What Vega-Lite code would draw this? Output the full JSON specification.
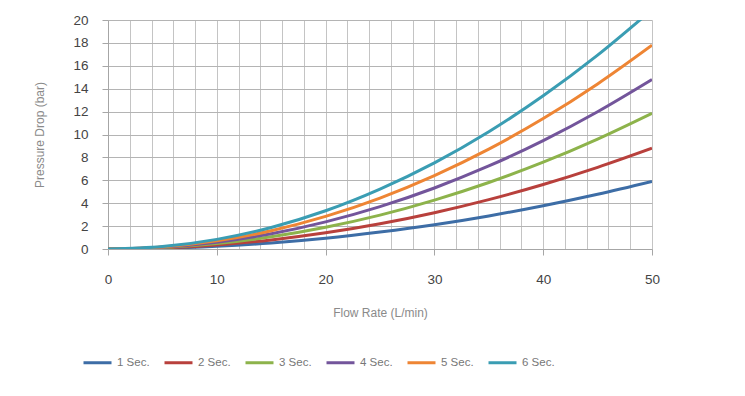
{
  "$schema": "https://vega.github.io/schema/vega-lite/v6.json",
  "width": 544,
  "height": 229,
  "autosize": {"type": "none"},
  "padding": {"left": 108, "top": 20, "right": 93, "bottom": 147},
  "background": "white",
  "config": {
    "font": "Liberation Sans",
    "view": {"stroke": null}
  },
  "data": {
    "values": [
      {"flow": 0, "s": "1 Sec.", "p": 0}, {"flow": 5, "s": "1 Sec.", "p": 0.06}, {"flow": 10, "s": "1 Sec.", "p": 0.24}, {"flow": 15, "s": "1 Sec.", "p": 0.53}, {"flow": 20, "s": "1 Sec.", "p": 0.94}, {"flow": 25, "s": "1 Sec.", "p": 1.48}, {"flow": 30, "s": "1 Sec.", "p": 2.12}, {"flow": 35, "s": "1 Sec.", "p": 2.89}, {"flow": 40, "s": "1 Sec.", "p": 3.78}, {"flow": 45, "s": "1 Sec.", "p": 4.78}, {"flow": 50, "s": "1 Sec.", "p": 5.9},
      {"flow": 0, "s": "2 Sec.", "p": 0}, {"flow": 5, "s": "2 Sec.", "p": 0.09}, {"flow": 10, "s": "2 Sec.", "p": 0.35}, {"flow": 15, "s": "2 Sec.", "p": 0.79}, {"flow": 20, "s": "2 Sec.", "p": 1.41}, {"flow": 25, "s": "2 Sec.", "p": 2.2}, {"flow": 30, "s": "2 Sec.", "p": 3.17}, {"flow": 35, "s": "2 Sec.", "p": 4.31}, {"flow": 40, "s": "2 Sec.", "p": 5.63}, {"flow": 45, "s": "2 Sec.", "p": 7.13}, {"flow": 50, "s": "2 Sec.", "p": 8.8},
      {"flow": 0, "s": "3 Sec.", "p": 0}, {"flow": 5, "s": "3 Sec.", "p": 0.12}, {"flow": 10, "s": "3 Sec.", "p": 0.47}, {"flow": 15, "s": "3 Sec.", "p": 1.07}, {"flow": 20, "s": "3 Sec.", "p": 1.9}, {"flow": 25, "s": "3 Sec.", "p": 2.96}, {"flow": 30, "s": "3 Sec.", "p": 4.27}, {"flow": 35, "s": "3 Sec.", "p": 5.81}, {"flow": 40, "s": "3 Sec.", "p": 7.58}, {"flow": 45, "s": "3 Sec.", "p": 9.6}, {"flow": 50, "s": "3 Sec.", "p": 11.85},
      {"flow": 0, "s": "4 Sec.", "p": 0}, {"flow": 5, "s": "4 Sec.", "p": 0.15}, {"flow": 10, "s": "4 Sec.", "p": 0.59}, {"flow": 15, "s": "4 Sec.", "p": 1.33}, {"flow": 20, "s": "4 Sec.", "p": 2.37}, {"flow": 25, "s": "4 Sec.", "p": 3.7}, {"flow": 30, "s": "4 Sec.", "p": 5.33}, {"flow": 35, "s": "4 Sec.", "p": 7.25}, {"flow": 40, "s": "4 Sec.", "p": 9.47}, {"flow": 45, "s": "4 Sec.", "p": 11.99}, {"flow": 50, "s": "4 Sec.", "p": 14.8},
      {"flow": 0, "s": "5 Sec.", "p": 0}, {"flow": 5, "s": "5 Sec.", "p": 0.18}, {"flow": 10, "s": "5 Sec.", "p": 0.71}, {"flow": 15, "s": "5 Sec.", "p": 1.6}, {"flow": 20, "s": "5 Sec.", "p": 2.85}, {"flow": 25, "s": "5 Sec.", "p": 4.45}, {"flow": 30, "s": "5 Sec.", "p": 6.41}, {"flow": 35, "s": "5 Sec.", "p": 8.72}, {"flow": 40, "s": "5 Sec.", "p": 11.39}, {"flow": 45, "s": "5 Sec.", "p": 14.42}, {"flow": 50, "s": "5 Sec.", "p": 17.8},
      {"flow": 0, "s": "6 Sec.", "p": 0}, {"flow": 5, "s": "6 Sec.", "p": 0.21}, {"flow": 10, "s": "6 Sec.", "p": 0.84}, {"flow": 15, "s": "6 Sec.", "p": 1.88}, {"flow": 20, "s": "6 Sec.", "p": 3.34}, {"flow": 25, "s": "6 Sec.", "p": 5.23}, {"flow": 30, "s": "6 Sec.", "p": 7.52}, {"flow": 35, "s": "6 Sec.", "p": 10.24}, {"flow": 40, "s": "6 Sec.", "p": 13.38}, {"flow": 45, "s": "6 Sec.", "p": 16.93}, {"flow": 50, "s": "6 Sec.", "p": 20.9}
    ]
  },
  "mark": {"type": "line", "strokeWidth": 3, "interpolate": "monotone", "clip": true},
  "encoding": {
    "x": {
      "field": "flow", "type": "quantitative",
      "scale": {"domain": [0, 50], "nice": false},
      "axis": {
        "title": "Flow Rate (L/min)",
        "values": [0,2,4,6,8,10,12,14,16,18,20,22,24,26,28,30,32,34,36,38,40,42,44,46,48,50],
        "labelExpr": "datum.value % 10 === 0 ? datum.label : ''",
        "labelFlush": false,
        "tickOpacity": {"expr": "datum.value % 10 === 0 ? 1 : 0"},
        "tickSize": 6, "tickColor": "#a6a6a6",
        "labelPadding": 17, "labelFontSize": 13.5, "labelColor": "#444444",
        "domainColor": "#a6a6a6",
        "grid": true, "gridColor": "#c4c4c4", "gridWidth": 1,
        "titleFontSize": 12, "titleFontWeight": "normal", "titleColor": "#8a8a8a", "titlePadding": 22
      }
    },
    "y": {
      "field": "p", "type": "quantitative",
      "scale": {"domain": [0, 20], "nice": false},
      "axis": {
        "title": "Pressure Drop (bar)",
        "values": [0,2,4,6,8,10,12,14,16,18,20],
        "tickSize": 6, "tickColor": "#a6a6a6",
        "labelPadding": 14, "labelFontSize": 13.5, "labelColor": "#444444",
        "domainColor": "#a6a6a6",
        "grid": true, "gridColor": "#b4b4b4", "gridWidth": 1,
        "titleFontSize": 12, "titleFontWeight": "normal", "titleColor": "#8a8a8a", "titlePadding": 26
      }
    },
    "color": {
      "field": "s", "type": "nominal",
      "scale": {
        "domain": ["1 Sec.", "2 Sec.", "3 Sec.", "4 Sec.", "5 Sec.", "6 Sec."],
        "range": ["#3d6da6", "#b8403c", "#8db34b", "#73559b", "#ee8534", "#3a9db3"]
      },
      "legend": {
        "title": null,
        "orient": "none",
        "legendX": -26,
        "legendY": 327,
        "direction": "horizontal",
        "columns": 6,
        "symbolType": "stroke",
        "symbolSize": 784,
        "symbolStrokeWidth": 3,
        "labelFontSize": 11.5,
        "labelColor": "#777777",
        "labelOffset": 4,
        "columnPadding": 8
      }
    }
  }
}
